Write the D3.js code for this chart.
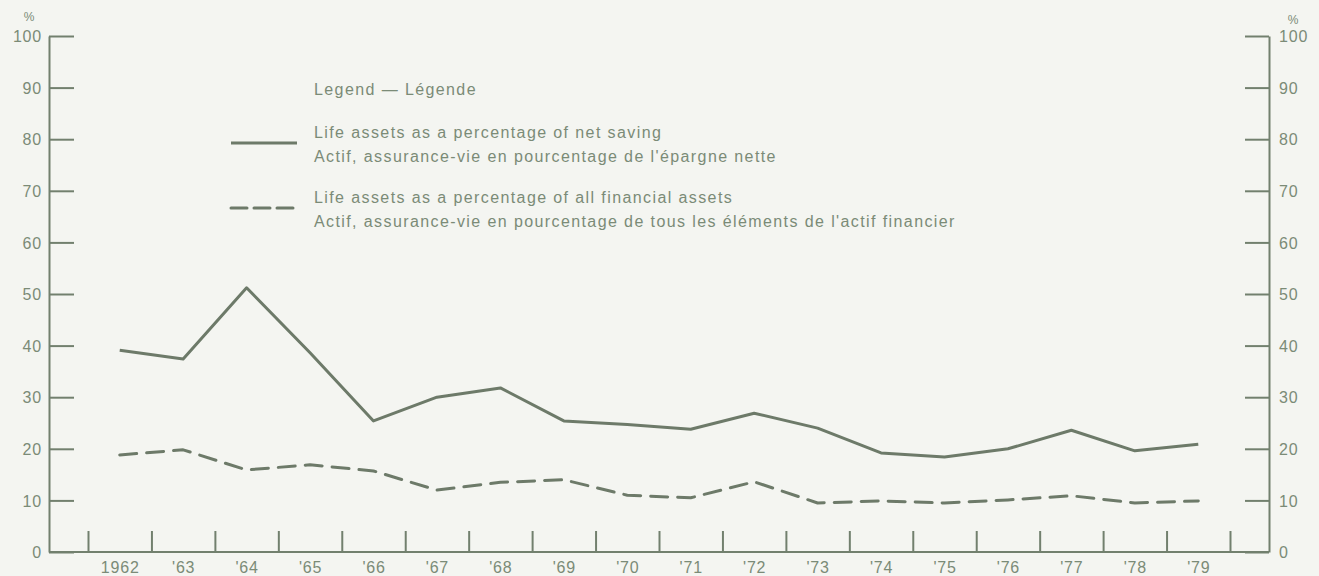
<!DOCTYPE html>
<html lang="en">
<head>
    <meta charset="UTF-8">
    <title>Life assets</title>
    <script src="https://d3js.org/d3.v7.min.js"></script>
    <style>
        body {
            margin: 0;
            background: #f4f5f1;
        }
        svg {
            display: block;
            font-family: "Liberation Sans", Arial, sans-serif;
        }
        .axis text {
            fill: #7b8b77;
            font-size: 16px;
            letter-spacing: 0.8px;
        }
        .axis line, .axis path, .frame {
            stroke: #72806e;
            stroke-width: 2;
        }
        .legend text {
            fill: #7b8b77;
            font-size: 16px;
            letter-spacing: 1.4px;
        }
        .series {
            fill: none;
            stroke: #6d7a69;
            stroke-width: 3;
            stroke-linejoin: round;
        }
    </style>
</head>
<body>
<div id="chart"></div>

<script>
    const years = [1962, 1963, 1964, 1965, 1966, 1967, 1968, 1969, 1970, 1971, 1972, 1973, 1974, 1975, 1976, 1977, 1978, 1979];
    const yearLabels = ["1962", "'63", "'64", "'65", "'66", "'67", "'68", "'69", "'70", "'71", "'72", "'73", "'74", "'75", "'76", "'77", "'78", "'79"];
    const netSaving = [39.1, 37.4, 51.2, 38.6, 25.4, 30.0, 31.8, 25.4, 24.7, 23.8, 26.9, 24.0, 19.2, 18.4, 20.0, 23.6, 19.6, 20.9];
    const financialAssets = [18.8, 19.8, 15.9, 16.9, 15.7, 12.0, 13.5, 14.0, 11.0, 10.5, 13.6, 9.5, 9.9, 9.5, 10.1, 10.9, 9.5, 9.9];
    const yTicks = [0, 10, 20, 30, 40, 50, 60, 70, 80, 90, 100];

    const legendTitle = "Legend \u2014 L\u00e9gende";
    const legendEntries = [
        { dash: null, en: "Life assets as a percentage of net saving", fr: "Actif, assurance-vie en pourcentage de l'\u00e9pargne nette" },
        { dash: "16,7", en: "Life assets as a percentage of all financial assets", fr: "Actif, assurance-vie en pourcentage de tous les \u00e9l\u00e9ments de l'actif financier" }
    ];

    const width = 1319;
    const height = 576;
    const plotLeft = 49, plotRight = 1269, plotTop = 36, plotBottom = 552;

    const svg = d3.select("#chart").append("svg")
        .attr("width", width)
        .attr("height", height);

    // each year is a slot between two tick marks
    const x = d3.scaleLinear().domain([1962, 1980]).range([88, 1230]);
    const y = d3.scaleLinear().domain([0, 100]).range([plotBottom, plotTop]);

    // left axis, ticks pointing inward
    svg.append("g")
        .attr("class", "axis")
        .attr("transform", `translate(${plotLeft},0)`)
        .call(d3.axisLeft(y).tickValues(yTicks).tickSize(-25).tickSizeOuter(0).tickPadding(7))
        .call(g => g.selectAll("text").attr("dy", "0.36em"));

    // right axis
    svg.append("g")
        .attr("class", "axis")
        .attr("transform", `translate(${plotRight},0)`)
        .call(d3.axisRight(y).tickValues(yTicks).tickSize(-24).tickSizeOuter(0).tickPadding(10))
        .call(g => g.selectAll("text").attr("dy", "0.36em"));

    // % units
    svg.append("text").attr("x", 29).attr("y", 21).attr("text-anchor", "middle")
        .attr("fill", "#7b8b77").attr("font-size", 12).text("%");
    svg.append("text").attr("x", 1293).attr("y", 24).attr("text-anchor", "middle")
        .attr("fill", "#7b8b77").attr("font-size", 12).text("%");

    // bottom baseline
    svg.append("line").attr("class", "frame")
        .attr("x1", plotLeft).attr("x2", plotRight)
        .attr("y1", plotBottom).attr("y2", plotBottom);

    // year separators
    svg.append("g")
        .attr("class", "axis")
        .attr("transform", `translate(0,${plotBottom})`)
        .call(d3.axisBottom(x).tickValues(d3.range(1962, 1981)).tickSize(-21).tickFormat(""))
        .call(g => g.select(".domain").remove());

    // year labels, centred in their slot
    svg.append("g")
        .attr("class", "axis")
        .attr("transform", `translate(0,${plotBottom})`)
        .call(d3.axisBottom(x).tickValues(years.map(d => d + 0.5)).tickSize(0).tickPadding(10)
            .tickFormat((d, i) => yearLabels[i]))
        .call(g => g.select(".domain").remove());

    const line = d3.line()
        .x((d, i) => x(years[i] + 0.5))
        .y(d => y(d));

    svg.append("path")
        .attr("class", "series")
        .attr("d", line(netSaving));

    svg.append("path")
        .attr("class", "series")
        .attr("stroke-dasharray", "17,10")
        .attr("stroke-linecap", "round")
        .attr("d", line(financialAssets));

    // legend
    const legend = svg.append("g").attr("class", "legend");
    legend.append("text").attr("x", 314).attr("y", 95).text(legendTitle);

    legendEntries.forEach((e, i) => {
        const oy = 133 + i * 65;
        legend.append("line")
            .attr("class", "series")
            .attr("x1", 231).attr("x2", 297)
            .attr("y1", oy + 10).attr("y2", oy + 10)
            .attr("stroke-dasharray", e.dash)
            .attr("stroke-linecap", e.dash ? "round" : null);
        legend.append("text").attr("x", 314).attr("y", oy + 5).text(e.en);
        legend.append("text").attr("x", 314).attr("y", oy + 29).text(e.fr);
    });
</script>
</body>
</html>
